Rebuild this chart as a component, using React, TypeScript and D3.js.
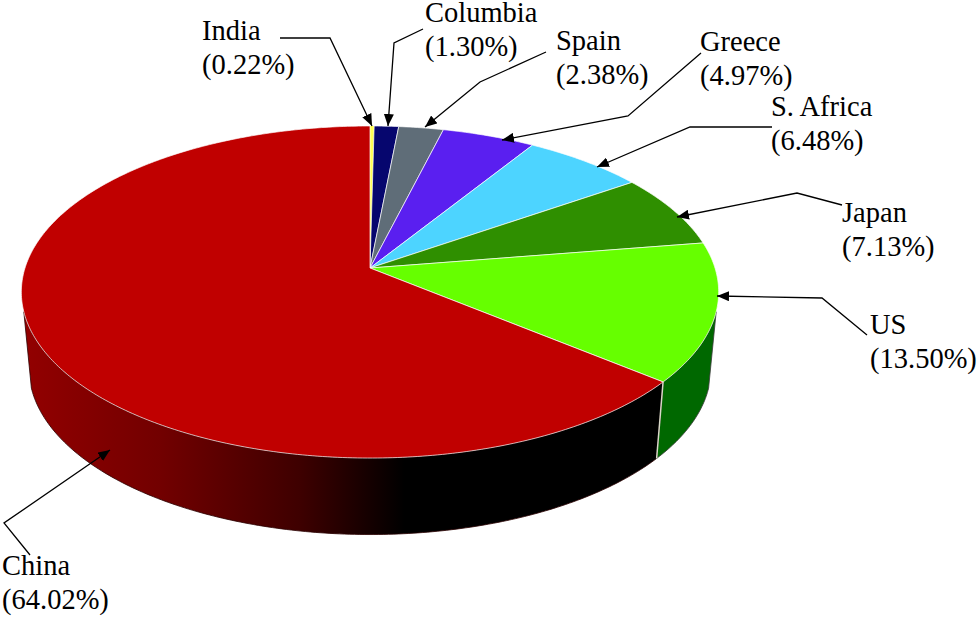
import React from "react";
import * as d3 from "d3";

const categories = ["India", "Columbia", "Spain", "Greece", "S. Africa", "Japan", "US", "China"];
const shares = [0.22, 1.3, 2.38, 4.97, 6.48, 7.13, 13.5, 64.02];
const topColors = ["#ffff55", "#06066e", "#5f6d78", "#5a1ff0", "#4dd4ff", "#2f8f00", "#66ff00", "#c00000"];
const wallFills = ["#000", "#000", "#000", "#000", "#000", "#000", "#006800", "url(#chinaWall)"];

// Layout of the callouts (label origin, then leader polyline ending at the arrow tip)
const labelPos: [number, number][] = [
  [202, 40], [425, 22], [556, 50], [700, 51], [771, 116], [842, 222], [870, 334], [2, 575],
];
const leaders: [number, number][][] = [
  [[280, 38], [330, 38], [372, 126]],
  [[423, 29], [394, 43], [388, 126]],
  [[546, 52], [480, 82], [425, 127]],
  [[701, 53], [628, 116], [502, 140]],
  [[772, 127], [690, 127], [597, 167]],
  [[842, 205], [797, 193], [677, 217]],
  [[867, 335], [822, 298], [717, 296]],
  [[30, 555], [4, 523], [110, 450]],
];

const W = 980, H = 617;
const cx = 370, apexY = 268, R = 345, persp = 0.1446, tilt = -123.8;
const depth = 76.5, baseScale = 0.978;
const wallFrom = (105 * Math.PI) / 180, wallTo = (255 * Math.PI) / 180;

const project = (a: number, base = false): [number, number] => {
  const X = Math.sin(a), Y = Math.cos(a), d = 1 + persp * Y;
  const x = (R * X) / d, y = (apexY + tilt * Y) / d;
  return base ? [cx + x * baseScale, y + depth] : [cx + x, y];
};

const pieGen = d3.pie<number>().sort(null).startAngle(0).endAngle(2 * Math.PI);
const arcs = pieGen(shares);
const line = d3.line();

const samples = (a0: number, a1: number) => {
  const n = Math.max(2, Math.ceil((a1 - a0) * 80));
  return d3.range(n + 1).map((i) => a0 + ((a1 - a0) * i) / n);
};

export default function App() {
  return (
    <svg width={W} height={H} viewBox={`0 0 ${W} ${H}`} style={{ position: "absolute", left: 0, top: 0, background: "#fff" }}>
      <defs>
        <linearGradient id="chinaWall" gradientUnits="userSpaceOnUse" x1={21} x2={718} y1={0} y2={0}>
          <stop offset="0" stopColor="#930000" />
          <stop offset="0.2" stopColor="#720000" />
          <stop offset="0.4" stopColor="#3e0000" />
          <stop offset="0.55" stopColor="#000000" />
          <stop offset="1" stopColor="#000000" />
        </linearGradient>
        <marker id="tip" viewBox="0 0 12 10" refX="12" refY="5" markerWidth="12" markerHeight="10" markerUnits="userSpaceOnUse" orient="auto">
          <path d="M0,0L12,5L0,10Z" fill="#000" />
        </marker>
      </defs>
      {arcs.map((s, i) => {
        const a0 = Math.max(s.startAngle, wallFrom), a1 = Math.min(s.endAngle, wallTo);
        if (a1 <= a0) return null;
        const top = samples(a0, a1).map((a) => project(a));
        const bottom = samples(a0, a1).reverse().map((a) => project(a, true));
        return (
          <path key={categories[i]} d={line([...top, ...bottom])! + "Z"} fill={wallFills[i]}
            stroke={i === 6 ? "#3a3a3a" : "#2a0000"} strokeWidth={0.8} />
        );
      })}
      {(() => {
        const a = arcs[7].startAngle;
        return <path d={line([project(a), project(a, true)])!} stroke="#d8d8c8" strokeWidth={1.5} fill="none" />;
      })()}
      {arcs.map((s, i) => (
        <path key={categories[i]} d={line([[cx, apexY], ...samples(s.startAngle, s.endAngle).map((a) => project(a))])! + "Z"}
          fill={topColors[i]} stroke={i === 0 ? "none" : "#fff"} strokeOpacity={0.85} strokeWidth={0.8} strokeLinejoin="round" />
      ))}
      {leaders.map((pts, i) => (
        <path key={categories[i]} d={line(pts)!} fill="none" stroke="#000" strokeWidth={1.3} markerEnd="url(#tip)" />
      ))}
      {categories.map((c, i) => (
        <text key={c} x={labelPos[i][0]} y={labelPos[i][1]} fontFamily="'Liberation Serif', serif" fontSize={28.5} fill="#000">
          <tspan>{c}</tspan>
          <tspan x={labelPos[i][0]} dy={33.5}>({shares[i].toFixed(2)}%)</tspan>
        </text>
      ))}
    </svg>
  );
}
